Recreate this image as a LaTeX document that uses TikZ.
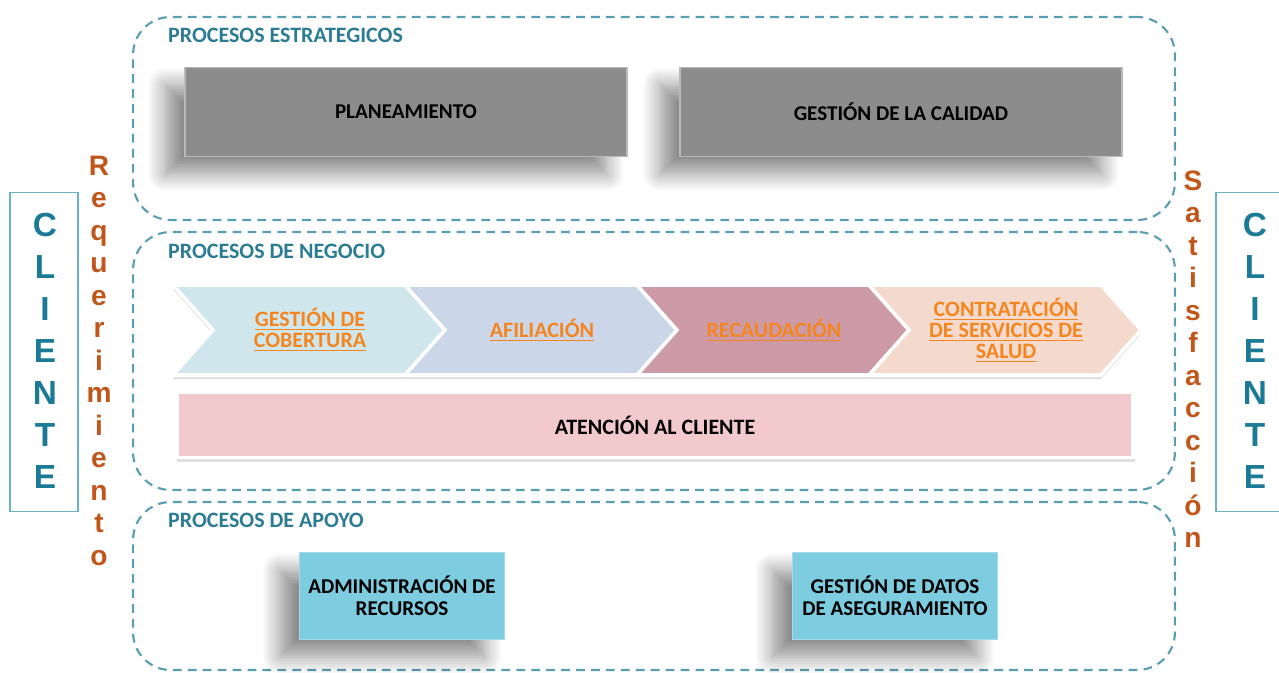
\documentclass[tikz,border=0pt]{standalone}
\usepackage{fontspec}
\setmainfont{Carlito}
\newfontfamily\arialfont{Liberation Sans}
\usetikzlibrary{positioning,shadows.blur}

\definecolor{dashteal}{HTML}{5A9DB0}
\definecolor{headteal}{HTML}{2B7C93}
\definecolor{clteal}{HTML}{1B7A96}
\definecolor{clborder}{HTML}{6FAFC2}
\definecolor{reqorange}{HTML}{C0561A}
\definecolor{chevorange}{HTML}{F5861F}
\definecolor{boxgray}{HTML}{8C8C8C}
\definecolor{chevA}{HTML}{CFE6ED}
\definecolor{chevB}{HTML}{CBD6E8}
\definecolor{chevC}{HTML}{CD9BA8}
\definecolor{chevD}{HTML}{F3DACD}
\definecolor{atencion}{HTML}{F2CACD}
\definecolor{apoyo}{HTML}{7DCCE0}

\begin{document}
\begin{tikzpicture}[x=0.02cm, y=-0.02cm
        , every node/.style={ }
        , grupo/.style={ draw=dashteal, line width=1.2pt, dash pattern=on 5pt off 3.5pt,
                         rounded corners=0.75cm }
        , titulo/.style={ anchor=west, text=headteal, font=\bfseries\fontsize{12.5}{14}\selectfont }
        , sombra/.style={ blur shadow={shadow xshift=-0.4cm, shadow yshift=-0.35cm,
                                       shadow blur radius=0.35cm, shadow blur steps=12,
                                       shadow opacity=45} }
        , graybox/.style={ sombra, fill=boxgray, draw=gray!55, line width=1pt,
                           minimum width=8.84cm, minimum height=1.78cm,
                           font=\bfseries\fontsize{12}{13}\selectfont }
        , bluebox/.style={ sombra, fill=apoyo, draw=apoyo!70!white, line width=1pt,
                           minimum width=4.1cm, minimum height=1.74cm, align=center,
                           font=\bfseries\fontsize{12}{12.5}\selectfont }
        , chev/.style={ draw=white, line width=2pt, line join=miter }
        , chevsombra/.style={ fill=black, opacity=0.12 }
        , chevtext/.style={ align=center, text=chevorange,
                            font=\bfseries\fontsize{12.5}{12}\selectfont }
        , clbox/.style={ draw=clborder, line width=1pt, minimum width=1.36cm, minimum height=6.38cm }
        , clletra/.style={ anchor=base, text=clteal, font=\arialfont\bfseries\fontsize{19}{20}\selectfont }
        , reqletra/.style={ anchor=base, text=reqorange, font=\arialfont\bfseries\fontsize{16}{18}\selectfont }
        ]

        \useasboundingbox (0,0) rectangle (1279,673);

        % Three dashed groups of processes.
        \node[grupo, minimum width=20.84cm, minimum height=4.06cm] (estr) at (654,118.5) {};
        \node[grupo, minimum width=20.84cm, minimum height=5.16cm] (nego) at (654,361) {};
        \node[grupo, minimum width=20.84cm, minimum height=3.36cm] (apoy) at (654,586) {};

        \node[titulo] (testr) at (162,35) {PROCESOS ESTRATEGICOS};
        \node[titulo] (tnego) at (162,251) {PROCESOS DE NEGOCIO};
        \node[titulo] (tapoy) at (162,520) {PROCESOS DE APOYO};

        % Strategic processes.
        \node[graybox] (plan) at (406,112) {PLANEAMIENTO};
        \node[graybox] (cali) at (901,112) {GESTIÓN DE LA CALIDAD};

        % Business processes as a chain of chevrons, shadows first.
        \foreach \x in {173,405,637,869}
            \fill[chevsombra] (\x,289) -- (\x+232,289) -- (\x+272,334) -- (\x+232,379)
                -- (\x,379) -- (\x+40,334) -- cycle;

        \foreach \x/\c/\t/\n in {173/chevA/{\underline{GESTIÓN DE}\\\underline{COBERTURA}}/cobe,
                                 405/chevB/{\underline{AFILIACIÓN}}/afil,
                                 637/chevC/{\underline{RECAUDACIÓN}}/reca,
                                 869/chevD/{\underline{CONTRATACIÓN}\\\underline{DE SERVICIOS DE}\\\underline{SALUD}}/cont}
        {
            \draw[chev, fill=\c] (\x,285) -- (\x+232,285) -- (\x+272,330) -- (\x+232,375)
                -- (\x,375) -- (\x+40,330) -- cycle;
            \node[chevtext] (\n) at (\x+137,330) {\t};
        }

        \fill[chevsombra] (177,397) rectangle (1135,462);
        \node[fill=atencion, draw=white, line width=2pt, minimum width=19.12cm, minimum height=1.3cm,
              font=\bfseries\fontsize{12.5}{13}\selectfont]
              (aten) at (655,425) {ATENCIÓN AL CLIENTE};

        % Support processes.
        \node[bluebox] (admi) at (402,596) {ADMINISTRACIÓN DE\\RECURSOS};
        \node[bluebox] (dato) at (895,596) {GESTIÓN DE DATOS\\DE ASEGURAMIENTO};

        % The client on both sides.
        \node[clbox] (clil) at (44,352) {};
        \node[clbox] (clir) at (1250,352) {};
        \foreach \l [count=\i] in {C,L,I,E,N,T,E}
        {
            \node[clletra] (cl\i) at (45,{236+42*(\i-1)}) {\l};
            \node[clletra] (cr\i) at (1255,{236+42*(\i-1)}) {\l};
        }

        % Requirement in, satisfaction out.
        \foreach \l [count=\i] in {R,e,q,u,e,r,i,m,i,e,n,t,o}
            \node[reqletra] (req\i) at (99,{175+32.5*(\i-1)}) {\l};
        \foreach \l [count=\i] in {S,a,t,i,s,f,a,c,c,i,ó,n}
            \node[reqletra] (sat\i) at (1193,{190+32.5*(\i-1)}) {\l};

\end{tikzpicture}
\end{document}
